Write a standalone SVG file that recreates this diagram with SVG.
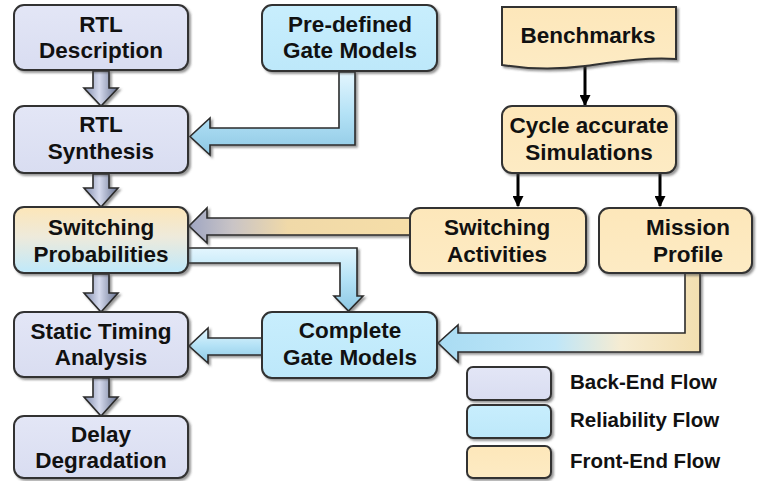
<svg xmlns="http://www.w3.org/2000/svg" width="765" height="481" viewBox="0 0 765 481">
  <defs>
    <style>
      .box { stroke: #333; stroke-width: 2; filter: url(#shadow); }
      .back { fill: url(#gBack); }
      .rel { fill: url(#gRel); }
      .front { fill: url(#gFront); }
      .lbl { font-family: "Liberation Sans", Arial, sans-serif; font-weight: bold; font-size: 22.5px; fill: #111; text-anchor: middle; }
      .leg { font-family: "Liberation Sans", Arial, sans-serif; font-weight: bold; font-size: 20.5px; fill: #111; }
      .pipe { stroke: #2b2b2b; stroke-width: 1.6; stroke-linejoin: miter; filter: url(#shadow); }
      .thin { stroke: #000; stroke-width: 3; fill: none; marker-end: url(#tip); }
    </style>
    <filter id="shadow" x="-10%" y="-10%" width="130%" height="140%">
      <feDropShadow dx="2" dy="2" stdDeviation="1.2" flood-color="#444" flood-opacity="0.55"/>
    </filter>
    <linearGradient id="gBack" x1="0" y1="0" x2="0" y2="1">
      <stop offset="0" stop-color="#e3e6f6"/>
      <stop offset="1" stop-color="#d9ddf1"/>
    </linearGradient>
    <linearGradient id="gRel" x1="0" y1="0" x2="0" y2="1">
      <stop offset="0" stop-color="#c8eefd"/>
      <stop offset="1" stop-color="#bde8fa"/>
    </linearGradient>
    <linearGradient id="gFront" x1="0" y1="0" x2="0" y2="1">
      <stop offset="0" stop-color="#fde7ba"/>
      <stop offset="1" stop-color="#fdebc4"/>
    </linearGradient>
    <linearGradient id="gMix" x1="0" y1="0" x2="0" y2="1">
      <stop offset="0" stop-color="#fde6b8"/>
      <stop offset="0.45" stop-color="#eeeadb"/>
      <stop offset="1" stop-color="#bfe9fb"/>
    </linearGradient>
    <!-- grey-blue block arrow, shaded across its width -->
    <linearGradient id="gDown" x1="0" y1="0" x2="1" y2="0">
      <stop offset="0" stop-color="#7f8aab"/>
      <stop offset="0.45" stop-color="#d6dbee"/>
      <stop offset="1" stop-color="#66718f"/>
    </linearGradient>
    <linearGradient id="gBlueH" x1="0" y1="0" x2="0" y2="1">
      <stop offset="0" stop-color="#e4f6fe"/>
      <stop offset="0.5" stop-color="#b4e2f6"/>
      <stop offset="1" stop-color="#8ec8e4"/>
    </linearGradient>
    <linearGradient id="gTanGrey" gradientUnits="userSpaceOnUse" x1="188" y1="0" x2="410" y2="0">
      <stop offset="0" stop-color="#9ea5c2"/>
      <stop offset="0.2" stop-color="#c9c4c6"/>
      <stop offset="0.45" stop-color="#f0d9a8"/>
      <stop offset="1" stop-color="#f6dea8"/>
    </linearGradient>
    <linearGradient id="gBlueTan" gradientUnits="userSpaceOnUse" x1="437" y1="0" x2="700" y2="0">
      <stop offset="0" stop-color="#a9dcf3"/>
      <stop offset="0.45" stop-color="#bfe6f8"/>
      <stop offset="0.7" stop-color="#f6ecd2"/>
      <stop offset="1" stop-color="#f3dfb0"/>
    </linearGradient>
    <marker id="tip" viewBox="0 0 10 10" refX="9" refY="5" markerWidth="11" markerHeight="11" markerUnits="userSpaceOnUse" orient="auto">
      <path d="M0,0 L10,5 L0,10 Z" fill="#000"/>
    </marker>
  </defs>

  <!-- connectors -->
  <g id="connectors">
    <!-- back-end chain -->
    <path class="pipe" fill="url(#gDown)" d="M93,71 H109 V88 H118 L101,106 L84,88 H93 Z"/>
    <path class="pipe" fill="url(#gDown)" d="M93,174 H109 V188 H118 L101,207 L84,188 H93 Z"/>
    <path class="pipe" fill="url(#gDown)" d="M93,274 H109 V293 H118 L101,312 L84,293 H93 Z"/>
    <path class="pipe" fill="url(#gDown)" d="M93,378 H109 V397 H118 L101,416 L84,397 H93 Z"/>

    <!-- pre-defined gate models to RTL synthesis -->
    <path class="pipe" fill="url(#gBlueH)" d="M339,72 H355 V145 H210 V155 L190,136.5 L210,118 V128 H339 Z"/>
    <!-- switching probabilities to complete gate models -->
    <path class="pipe" fill="url(#gBlueH)" d="M188,248 H357 V296 H363 L348.5,311 L334,296 H340 V263 H188 Z"/>
    <!-- complete gate models to static timing -->
    <path class="pipe" fill="url(#gBlueH)" d="M262,338 V355 H208 V363 L189,346 L208,328 V338 Z"/>
    <!-- switching activities to switching probabilities -->
    <path class="pipe" fill="url(#gTanGrey)" d="M410,218 V235 H207 V243 L189,226 L207,208 V218 Z"/>
    <!-- mission profile to complete gate models -->
    <path class="pipe" fill="url(#gBlueTan)" d="M685,273 H700 V352 H458 V362 L438,343 L458,325 V333 H685 Z"/>

    <!-- thin black arrows -->
    <line class="thin" x1="585" y1="66" x2="585" y2="105"/>
    <line class="thin" x1="518" y1="174" x2="518" y2="206"/>
    <line class="thin" x1="660" y1="174" x2="660" y2="206"/>
  </g>

  <g id="rtl-description">
    <rect class="box back" x="14" y="5" width="174" height="65" rx="10"/>
    <text class="lbl" x="101" y="32">RTL</text>
    <text class="lbl" x="101" y="58">Description</text>
  </g>
  <g id="rtl-synthesis">
    <rect class="box back" x="14" y="106" width="174" height="67" rx="10"/>
    <text class="lbl" x="101" y="132">RTL</text>
    <text class="lbl" x="101" y="159">Synthesis</text>
  </g>
  <g id="predefined-gate-models">
    <rect class="box rel" x="262" y="5" width="175" height="66" rx="10"/>
    <text class="lbl" x="350" y="32">Pre-defined</text>
    <text class="lbl" x="350" y="58">Gate Models</text>
  </g>
  <g id="benchmarks">
    <path class="box front" d="M502,7 H676 V59 C645,57 615,62 585,66 C555,70 528,69 502,65 Z"/>
    <text class="lbl" x="588" y="43">Benchmarks</text>
  </g>
  <g id="cycle-accurate-simulations">
    <rect class="box front" x="502" y="106" width="174" height="67" rx="10"/>
    <text class="lbl" x="589" y="133">Cycle accurate</text>
    <text class="lbl" x="589" y="160">Simulations</text>
  </g>
  <g id="switching-probabilities">
    <rect class="box" fill="url(#gMix)" x="14" y="207" width="174" height="66" rx="10"/>
    <text class="lbl" x="101" y="235">Switching</text>
    <text class="lbl" x="101" y="262">Probabilities</text>
  </g>
  <g id="switching-activities">
    <rect class="box front" x="410" y="208" width="176" height="65" rx="10"/>
    <text class="lbl" x="497" y="235">Switching</text>
    <text class="lbl" x="497" y="262">Activities</text>
  </g>
  <g id="mission-profile">
    <rect class="box front" x="599" y="208" width="153" height="65" rx="10"/>
    <text class="lbl" x="688" y="235">Mission</text>
    <text class="lbl" x="688" y="262">Profile</text>
  </g>
  <g id="static-timing-analysis">
    <rect class="box back" x="14" y="312" width="174" height="65" rx="10"/>
    <text class="lbl" x="101" y="339">Static Timing</text>
    <text class="lbl" x="101" y="365">Analysis</text>
  </g>
  <g id="complete-gate-models">
    <rect class="box rel" x="262" y="312" width="175" height="66" rx="10"/>
    <text class="lbl" x="350" y="338">Complete</text>
    <text class="lbl" x="350" y="365">Gate Models</text>
  </g>
  <g id="delay-degradation">
    <rect class="box back" x="14" y="416" width="174" height="62" rx="10"/>
    <text class="lbl" x="101" y="442">Delay</text>
    <text class="lbl" x="101" y="468">Degradation</text>
  </g>

  <g id="legend">
    <rect class="box back" x="467" y="367" width="84" height="33" rx="6"/>
    <text class="leg" x="570" y="389">Back-End Flow</text>
    <rect class="box rel" x="467" y="405" width="84" height="33" rx="6"/>
    <text class="leg" x="570" y="427">Reliability Flow</text>
    <rect class="box front" x="467" y="446" width="84" height="32" rx="6"/>
    <text class="leg" x="570" y="468">Front-End Flow</text>
  </g>
</svg>
